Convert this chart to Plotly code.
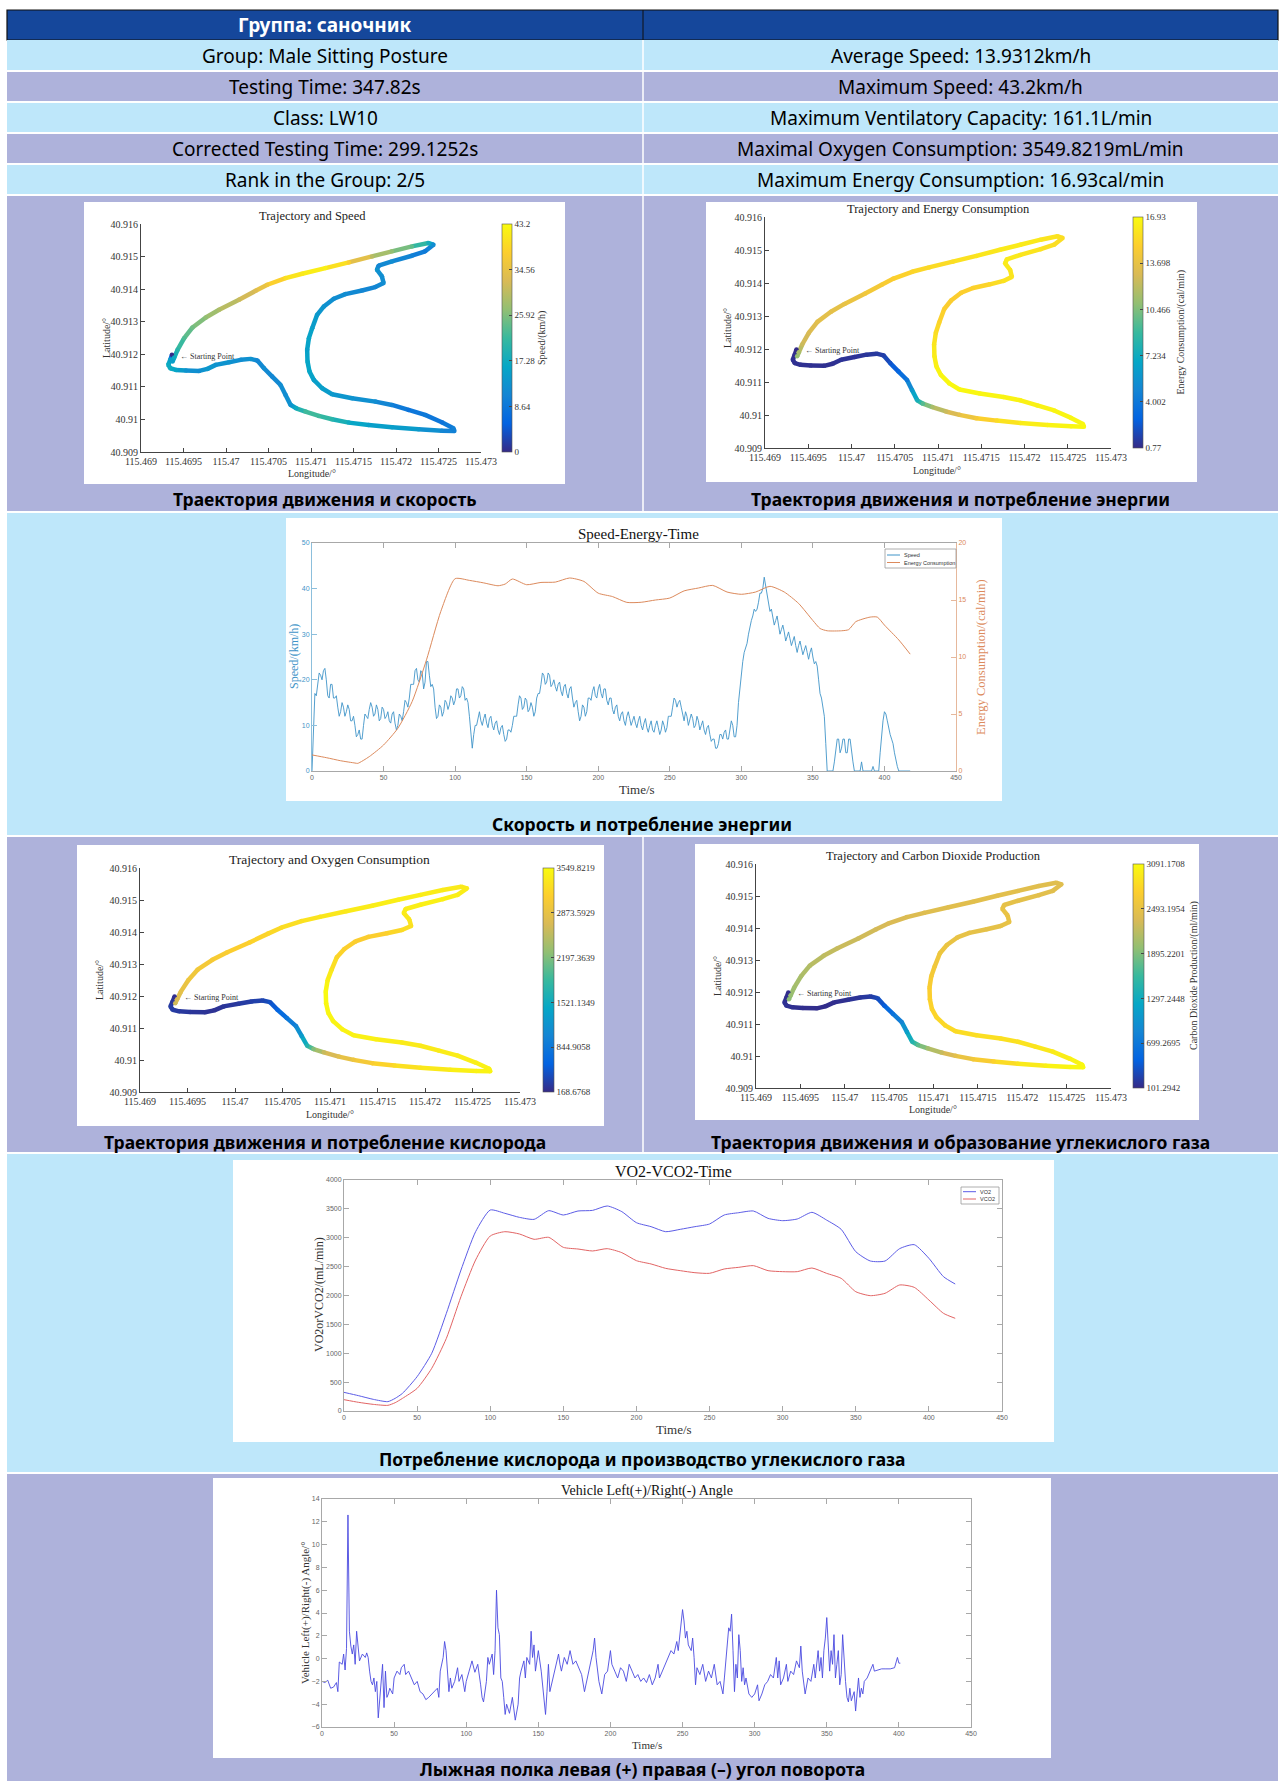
import plotly.graph_objects as go
from plotly.colors import sample_colorscale

W, H = 1284, 1781

# ----------------------------- data -----------------------------
header_title = "Группа: саночник"
info_left = ["Group: Male Sitting Posture", "Testing Time: 347.82s", "Class: LW10",
             "Corrected Testing Time: 299.1252s", "Rank in the Group: 2/5"]
info_right = ["Average Speed: 13.9312km/h", "Maximum Speed: 43.2km/h",
              "Maximum Ventilatory Capacity: 161.1L/min",
              "Maximal Oxygen Consumption: 3549.8219mL/min",
              "Maximum Energy Consumption: 16.93cal/min"]
captions = ["Траектория движения и скорость",
            "Траектория движения и потребление энергии",
            "Скорость и потребление энергии",
            "Траектория движения и потребление кислорода",
            "Траектория движения и образование углекислого газа",
            "Потребление кислорода и производство углекислого газа",
            "Лыжная полка левая (+) правая (–) угол поворота"]

# trajectory waypoints (start -> lower branch -> far tip -> inner branch -> upper tip -> upper branch)
traj_lon = [115.469364, 115.469344, 115.469321, 115.469344, 115.469411, 115.469528, 115.469684, 115.469782, 115.469880, 115.470036,
            115.470173, 115.470290, 115.470369, 115.470447, 115.470544, 115.470642, 115.470701, 115.470760, 115.470826, 115.470935,
            115.471092, 115.471248, 115.471444, 115.471678, 115.471952, 115.472265, 115.472539, 115.472687, 115.472675, 115.472539,
            115.472343, 115.472148, 115.471952, 115.471757, 115.471483, 115.471248, 115.471131, 115.471033, 115.470982, 115.470959,
            115.470955, 115.470975, 115.471014, 115.471072, 115.471151, 115.471268, 115.471405, 115.471600, 115.471757, 115.471854,
            115.471835, 115.471776, 115.471796, 115.471952, 115.472187, 115.472343, 115.472441, 115.472382, 115.472187, 115.471952,
            115.471717, 115.471444, 115.471170, 115.470896, 115.470701, 115.470486, 115.470349, 115.470153, 115.469919, 115.469762,
            115.469606, 115.469508, 115.469430, 115.469391, 115.469371]
traj_lat = [40.911982, 40.911829, 40.911675, 40.911572, 40.911521, 40.911501, 40.911490, 40.911552, 40.911675, 40.911757,
            40.911829, 40.911859, 40.911808, 40.911572, 40.911316, 40.911060, 40.910752, 40.910445, 40.910342, 40.910240,
            40.910107, 40.910004, 40.909902, 40.909830, 40.909758, 40.909697, 40.909656, 40.909646, 40.909728, 40.909912,
            40.910138, 40.910291, 40.910445, 40.910547, 40.910650, 40.910773, 40.910957, 40.911214, 40.911470, 40.911777,
            40.912136, 40.912495, 40.912802, 40.913212, 40.913469, 40.913704, 40.913848, 40.913960, 40.914063, 40.914186,
            40.914391, 40.914596, 40.914719, 40.914852, 40.915026, 40.915160, 40.915365, 40.915416, 40.915313, 40.915160,
            40.915006, 40.914821, 40.914647, 40.914473, 40.914340, 40.914135, 40.913950, 40.913673, 40.913366, 40.913130,
            40.912823, 40.912495, 40.912136, 40.911900, 40.911777]
traj_speed = [0, 15, 17, 17, 16, 13, 12, 14, 13, 13,
              12, 13, 11, 12, 11, 12, 12, 13, 17, 22,
              22, 20, 17, 15, 15, 14, 11, 10, 10, 8,
              9, 8, 10, 12, 13, 14, 15, 15, 16, 16,
              15, 16, 15, 14, 13, 12, 12, 11, 11, 12,
              12, 13, 11, 12, 10, 9, 12, 18, 24, 27,
              30, 38, 42, 41, 40, 36, 33, 31, 29, 27,
              25, 23, 20, 17, 15]
traj_energy = [0.8, 0.9, 1.0, 1.0, 1.0, 1.0, 1.0, 1.0, 1.1, 1.1,
               1.2, 1.3, 1.5, 2.2, 3.0, 4.0, 6.0, 7.5, 9.5, 11.5,
               12.5, 13.5, 14.5, 15.5, 16.2, 16.5, 16.7, 16.8, 16.8, 16.7,
               16.6, 16.5, 16.5, 16.6, 16.7, 16.8, 16.8, 16.7, 16.5, 16.3,
               16.0, 15.6, 15.2, 14.9, 14.8, 14.9, 15.0, 15.3, 15.8, 15.9,
               16.0, 16.2, 16.2, 16.0, 15.8, 15.6, 15.6, 15.8, 16.0, 16.2,
               16.1, 15.9, 15.6, 15.4, 15.2, 14.9, 14.6, 14.2, 13.7, 13.5,
               13.4, 13.0, 12.5, 11.5, 11.0]
traj_vo2 = [200, 250, 300, 300, 280, 260, 240, 230, 250, 280,
            320, 360, 450, 600, 800, 1000, 1300, 1700, 2200, 2600,
            2800, 2950, 3100, 3250, 3350, 3420, 3470, 3480, 3470, 3440,
            3420, 3400, 3380, 3400, 3450, 3460, 3470, 3480, 3500, 3520,
            3540, 3450, 3350, 3200, 3150, 3120, 3110, 3150, 3250, 3300,
            3350, 3400, 3420, 3440, 3450, 3430, 3400, 3380, 3400, 3420,
            3440, 3420, 3380, 3350, 3300, 3250, 3200, 3150, 3100, 3050,
            3000, 2950, 2850, 2750, 2650]
traj_vco2 = [120, 130, 150, 150, 140, 130, 120, 120, 130, 150,
             180, 220, 300, 450, 650, 850, 1150, 1450, 1750, 2050,
             2250, 2450, 2600, 2750, 2900, 3000, 3050, 3080, 3070, 3000,
             2950, 2900, 2880, 2860, 2850, 2820, 2800, 2780, 2760, 2740,
             2700, 2650, 2600, 2560, 2530, 2500, 2480, 2470, 2480, 2500,
             2520, 2500, 2480, 2460, 2440, 2430, 2420, 2420, 2420, 2430,
             2440, 2430, 2420, 2400, 2380, 2350, 2320, 2280, 2250, 2200,
             2150, 2100, 2050, 2000, 1950]

lon_ticks = [115.469, 115.4695, 115.47, 115.4705, 115.471, 115.4715, 115.472, 115.4725, 115.473]
lon_tick_text = ["115.469", "115.4695", "115.47", "115.4705", "115.471", "115.4715", "115.472", "115.4725", "115.473"]
lat_ticks = [40.909, 40.910, 40.911, 40.912, 40.913, 40.914, 40.915, 40.916]
lat_tick_text = ["40.909", "40.91", "40.911", "40.912", "40.913", "40.914", "40.915", "40.916"]

speed_cb_ticks = [0, 8.64, 17.28, 25.92, 34.56, 43.2]
speed_cb_text = ["0", "8.64", "17.28", "25.92", "34.56", "43.2"]
energy_cb_ticks = [0.77, 4.002, 7.234, 10.466, 13.698, 16.93]
energy_cb_text = ["0.77", "4.002", "7.234", "10.466", "13.698", "16.93"]
vo2_cb_ticks = [168.6768, 844.9058, 1521.1349, 2197.3639, 2873.5929, 3549.8219]
vo2_cb_text = ["168.6768", "844.9058", "1521.1349", "2197.3639", "2873.5929", "3549.8219"]
vco2_cb_ticks = [101.2942, 699.2695, 1297.2448, 1895.2201, 2493.1954, 3091.1708]
vco2_cb_text = ["101.2942", "699.2695", "1297.2448", "1895.2201", "2493.1954", "3091.1708"]

# speed (km/h) read at even seconds 0..418 and at odd seconds 1..417
speed_even = [0, 17, 19, 21, 22, 20, 16, 19, 16, 14,
              13, 14, 13, 13.5, 11, 10, 8, 7, 10, 12,
              13.5, 14, 12.5, 13.5, 11.5, 13.5, 12, 11, 12.5, 10.5,
              10, 12, 13, 15, 16, 19, 22, 20, 22, 18,
              24, 21, 19, 14, 12, 14, 13, 15, 14.5, 16,
              15.5, 18, 16.5, 18, 16, 12, 5, 10, 12, 11,
              11.5, 10.5, 11.5, 10, 10.5, 9, 9.5, 8, 7, 9,
              10, 12, 14.5, 16, 14, 15.5, 13.5, 14, 13, 17,
              19, 21, 19.5, 21, 19, 18.5, 19, 17.5, 18.5, 17,
              18, 16, 15, 13, 12, 14, 13, 16, 17.5, 16.5,
              18, 17, 18, 15.5, 16, 13.5, 14, 12, 12.5, 11,
              12, 11.5, 11, 10.5, 11, 10, 10.5, 9.5, 10, 9,
              10, 9.5, 9, 10, 9.5, 12, 14, 15.5, 15, 14,
              11, 12, 11, 11.5, 10, 11, 10, 9, 9.5, 8,
              7, 5, 6, 8, 8.5, 7, 9, 10, 7.5, 15,
              22, 26, 28, 32, 34, 35, 37, 39, 42.5, 39,
              35, 34, 33, 32, 31, 30.5, 29.5, 29, 28.5, 27.5,
              27.5, 27, 26.5, 26, 26, 25, 24, 20, 16, 12,
              0, 0, 0, 4, 7, 5, 7, 4, 7, 2,
              0, 0, 2, 0, 0, 0, 1, 0, 0, 8,
              13, 11, 8, 6, 2, 0, 0, 0, 0, 0]
speed_odd = [9, 16.5, 21.5, 20, 22.5, 16.5, 19, 16, 16.5, 12,
             15, 12, 14.5, 11, 12, 7.5, 9, 7, 12.5, 11.5,
             15, 12, 14.5, 11, 14, 11.5, 13, 10.5, 13, 9,
             12.5, 11, 15.5, 14, 19, 19, 22.5, 19.5, 21.5, 19.5,
             24, 18.5, 18, 11.5, 14.5, 12, 15.5, 13.5, 16.5, 14.5,
             18, 16, 18.5, 15.5, 15, 8, 8, 10, 13, 10,
             12.5, 9.5, 12, 9, 11, 8, 10, 6.5, 9, 8.5,
             12, 12, 16.5, 13.5, 16, 13, 15, 12, 16, 17,
             21.5, 19, 21.5, 18.5, 20, 17.5, 19.5, 16.5, 19, 16,
             18.5, 14, 15.5, 11, 14.5, 12, 16, 15.5, 18.5, 16,
             19, 16, 18, 14.5, 16, 12.5, 14.5, 11, 13, 10,
             13, 10, 12, 9.5, 12, 9, 11.5, 8.5, 11, 8.5,
             11, 8, 11, 8.5, 12, 12, 16, 14, 15.5, 12,
             13, 10, 12.5, 9.5, 12, 9, 11, 8, 10, 6.5,
             7, 5, 8, 7, 9, 7, 11, 7.5, 10, 18.5,
             24, 27, 30, 33, 35.5, 35.5, 39, 40, 40.5, 36.5,
             35.5, 32, 34, 30, 32, 28.5, 30.5, 27.5, 29.5, 26,
             28.5, 25.5, 27.5, 24.5, 27, 23.5, 23, 17, 14, 6,
             0, 0, 2, 7, 4, 7, 4, 7, 4, 0,
             0, 0, 0, 0, 0, 0, 0, 0, 4, 11,
             12.5, 9, 7, 4, 1, 0, 0, 0, 0]

energy_t = [0, 10, 20, 30, 32, 40, 50, 60, 70, 80,
            90, 100, 110, 120, 130, 135, 140, 150, 160, 170,
            180, 190, 200, 210, 220, 230, 240, 250, 260, 270,
            280, 290, 300, 310, 320, 330, 340, 350, 355, 360,
            370, 375, 380, 390, 395, 400, 410, 418]
energy_val = [1.41, 1.17, 0.9, 0.7, 0.67, 1.26, 2.28, 3.75, 6.1, 9.75,
              14.0, 16.87, 16.72, 16.5, 16.25, 16.4, 16.84, 16.34, 16.54, 16.57,
              16.93, 16.63, 15.6, 15.3, 14.79, 14.8, 15.0, 15.17, 15.8, 16.05,
              16.28, 15.7, 15.5, 15.7, 16.2, 15.7, 14.7, 13.2, 12.5, 12.3,
              12.3, 12.4, 13.1, 13.5, 13.5, 12.8, 11.5, 10.25]

gas_t = [0, 10, 20, 30, 35, 40, 50, 60, 70, 80,
         90, 100, 110, 120, 130, 140, 150, 160, 170, 180,
         190, 200, 210, 220, 230, 240, 250, 260, 270, 280,
         290, 300, 310, 320, 330, 340, 350, 360, 370, 380,
         390, 400, 410, 418]
vo2 = [323, 265, 202, 162, 219, 306, 595, 999, 1691, 2441,
       3105, 3480, 3423, 3353, 3319, 3469, 3394, 3463, 3474, 3550,
       3452, 3261, 3192, 3105, 3146, 3192, 3238, 3394, 3434, 3463,
       3336, 3296, 3325, 3440, 3307, 3146, 2759, 2597, 2597, 2811,
       2880, 2644, 2326, 2199]
vco2 = [196, 150, 115, 98, 144, 219, 392, 739, 1258, 1980,
        2615, 3030, 3105, 3065, 2973, 3007, 2834, 2805, 2771, 2811,
        2742, 2603, 2546, 2470, 2430, 2395, 2384, 2459, 2488, 2517,
        2430, 2413, 2413, 2476, 2384, 2297, 2066, 1997, 2038, 2182,
        2141, 1922, 1691, 1605]

angle_t = [0, 2, 4, 6, 8, 10, 11, 12, 14, 15,
           16, 17, 18, 19, 20, 21, 22, 23, 24, 25,
           26, 28, 30, 31, 32, 33, 34, 35, 36, 37,
           38, 39, 40, 41, 42, 43, 44, 45, 46, 47,
           49, 50, 52, 54, 55, 57, 58, 60, 62, 64,
           66, 68, 70, 72, 74, 76, 78, 80, 81, 82,
           84, 85, 86, 87, 88, 89, 90, 92, 94, 95,
           97, 99, 100, 102, 104, 106, 108, 110, 111, 112,
           114, 115, 116, 118, 119, 120, 121, 122, 123, 124,
           125, 126, 127, 128, 130, 132, 134, 136, 137, 138,
           140, 141, 142, 144, 145, 146, 147, 148, 150, 152,
           154, 155, 156, 157, 158, 160, 162, 164, 165, 166,
           168, 170, 172, 174, 176, 178, 180, 182, 184, 186,
           188, 189, 190, 192, 194, 196, 198, 200, 201, 203,
           205, 207, 209, 211, 213, 215, 217, 219, 221, 223,
           225, 227, 229, 231, 233, 234, 236, 238, 240, 242,
           244, 246, 247, 248, 249, 250, 251, 252, 253, 254,
           256, 257, 258, 259, 260, 262, 264, 266, 268, 270,
           272, 274, 276, 278, 279, 280, 281, 282, 283, 284,
           285, 286, 287, 288, 289, 290, 291, 292, 293, 294,
           296, 298, 300, 302, 303, 305, 307, 309, 311, 313,
           315, 316, 317, 318, 320, 322, 323, 325, 327, 329,
           331, 332, 333, 335, 337, 339, 341, 342, 344, 345,
           346, 347, 348, 349, 350, 351, 352, 353, 354, 355,
           356, 357, 358, 359, 360, 361, 362, 363, 364, 365,
           366, 367, 369, 370, 371, 372, 373, 374, 375, 376,
           378, 380, 382, 383, 385, 388, 391, 394, 397, 398,
           399, 400, 401]
angle_deg = [-2.0, -2.1, -1.9, -2.6, -2.5, -2.1, -2.9, -0.3, -0.5, 0.4,
             -1.0, 0.9, 12.6, 2.4, 1.1, 0.4, 1.2, -0.5, 2.4, 0.8,
             -0.2, 0.4, 0.1, 0.5, 0.1, -1.1, -2.0, -2.3, -1.7, -2.9,
             -2.0, -5.2, -3.4, -1.7, -0.5, -4.3, -1.1, -3.4, -3.1, -2.6,
             -3.1, -1.7, -1.1, -1.4, -0.8, -0.5, -1.4, -1.1, -1.7, -2.3,
             -2.0, -2.9, -3.1, -3.6, -3.4, -3.1, -2.9, -2.6, -3.4, -1.1,
             0.1, 1.5, 0.7, -1.1, -2.9, -1.7, -2.6, -2.0, -0.8, -2.0,
             -1.4, -2.9, -2.0, -1.1, -0.2, -1.2, -0.5, -2.3, -3.4, -3.8,
             -2.0, 0.1, -0.5, 0.4, -1.4, 0.7, 6.0, 2.7, 2.1, -1.7,
             -2.0, -3.4, -4.9, -4.0, -4.8, -3.4, -5.4, -4.0, -1.7, -1.1,
             -0.2, -1.7, 0.1, -0.5, 2.4, 0.1, 1.2, -1.1, 0.7, -1.1,
             -3.4, -4.9, -2.9, -0.5, -2.9, -1.7, -0.5, 0.4, -0.5, -1.1,
             0.1, -0.5, 0.7, -0.5, -0.2, -0.8, -1.4, -2.9, -1.7, -0.5,
             0.7, 1.8, 0.1, -2.0, -3.1, -1.4, -1.1, 0.7, -0.5, -1.1,
             -1.7, -0.8, -1.1, -2.0, -0.5, -1.1, -1.7, -1.4, -2.0, -1.7,
             -2.1, -1.4, -2.3, -1.7, -0.5, -1.7, -1.1, -0.5, 0.1, 0.7,
             0.4, 1.5, 0.7, 2.1, 3.0, 4.3, 3.3, 1.8, 2.4, 1.2,
             0.7, 1.8, 0.1, -2.3, -0.8, -1.4, -0.5, -2.0, -1.1, -1.7,
             -0.5, -2.3, -2.0, -3.1, -1.7, -0.2, 0.9, 2.7, 2.4, 3.9,
             0.7, -2.9, -0.5, -1.7, 2.1, 0.7, -2.0, -0.8, -2.3, -1.7,
             -3.1, -3.4, -3.1, -2.3, -3.7, -3.1, -2.3, -2.0, -1.4, -1.7,
             0.1, -1.7, -0.2, -2.3, -1.7, -0.5, -2.0, -1.1, -1.4, -0.2,
             -0.8, 1.1, -1.1, -3.1, -1.7, -2.0, -0.5, -1.7, 0.7, -1.1,
             0.1, -1.7, 0.7, 1.8, 3.6, 0.7, -1.1, 0.7, -0.5, 2.1,
             -1.7, -0.5, 0.7, -2.3, -1.4, 2.1, -0.5, -2.0, -3.4, -3.8,
             -2.6, -3.7, -2.9, -4.6, -3.1, -1.7, -3.4, -2.6, -3.1, -2.0,
             -1.7, -1.1, -0.5, -1.1, -1.0, -0.9, -0.9, -0.9, -0.8, -0.4,
             0.1, -0.4, -0.4]

time_ticks = [0, 50, 100, 150, 200, 250, 300, 350, 400, 450]
speed_legend = ["Speed", "Energy Consumption"]
gas_legend = ["VO2", "VCO2"]

# interleave the even/odd speed readings into one 1-second series
speed_t, speed_kmh = [], []
for k, v in enumerate(speed_even):
    speed_t.append(2 * k)
    speed_kmh.append(v)
    if k < len(speed_odd):
        speed_t.append(2 * k + 1)
        speed_kmh.append(speed_odd[k])

# ----------------------------- style -----------------------------
SERIF = "Liberation Serif"
SANS = "Noto Sans"
TSANS = "Liberation Sans"
DARK = "#15479b"
CYAN = "#bee7fa"
LAV = "#aeb2db"
PARULA = [[0.0, "rgb(53,42,135)"], [0.125, "rgb(3,99,225)"], [0.25, "rgb(20,133,212)"],
          [0.375, "rgb(6,167,198)"], [0.5, "rgb(56,185,158)"], [0.625, "rgb(146,191,115)"],
          [0.75, "rgb(217,186,86)"], [0.875, "rgb(252,206,46)"], [1.0, "rgb(249,251,14)"]]


def px(x):
    return x / W


def py(y):
    return 1 - y / H


def xdom(a, b):
    return [a / W, b / W]


def ydom(a, b):
    return [1 - b / H, 1 - a / H]


shapes = []
annotations = []


def rect(x0, y0, x1, y1, fill, lc=None, lw=0, layer="below"):
    shapes.append(dict(type="rect", xref="paper", yref="paper", layer=layer,
                       x0=px(x0), x1=px(x1), y0=py(y1), y1=py(y0),
                       fillcolor=fill, line=dict(width=lw, color=lc or fill)))


def hline(x0, x1, y, color, w, layer="below"):
    shapes.append(dict(type="line", xref="paper", yref="paper", layer=layer,
                       x0=px(x0), x1=px(x1), y0=py(y), y1=py(y), line=dict(color=color, width=w)))


def vline(x, y0, y1, color, w):
    shapes.append(dict(type="line", xref="paper", yref="paper", layer="below",
                       x0=px(x), x1=px(x), y0=py(y0), y1=py(y1), line=dict(color=color, width=w)))


def text(x, y, s, size, color="black", family=SANS, bold=False, angle=0, xanchor="center"):
    annotations.append(dict(xref="paper", yref="paper", x=px(x), y=py(y), text=(f"<b>{s}</b>" if bold else s),
                            showarrow=False, xanchor=xanchor, yanchor="middle", textangle=angle,
                            font=dict(family=family, size=size, color=color)))


L, M, R = 7, 643, 1278

# table header + info rows
rect(L, 10, R, 40, DARK, "#111111", 1.2)
vline(M, 10, 40, "#111111", 1)
row_tops = [40, 71, 102, 133, 164]
for i, y0 in enumerate(row_tops):
    rect(L, y0, R, y0 + 31, CYAN if i % 2 == 0 else LAV)
rect(L, 195, R, 512, LAV)
rect(L, 512, R, 836, CYAN)
rect(L, 836, R, 1153, LAV)
rect(L, 1153, R, 1473, CYAN)
rect(L, 1473, R, 1781, LAV)
for y in [71, 102, 133, 164, 195, 512, 836, 1153, 1473]:
    hline(L, R, y, "white", 2)
vline(M, 40, 512, "white", 1.5)
vline(M, 836, 1153, "white", 1.5)

# white image panels
for (x0, y0, x1, y1) in [(84, 202, 565, 484), (706, 202, 1197, 482), (286, 518, 1002, 801),
                         (77, 845, 604, 1126), (695, 844, 1199, 1120), (233, 1160, 1054, 1442),
                         (213, 1478, 1051, 1758)]:
    rect(x0, y0, x1, y1, "white")

text((L + M) / 2, 25, header_title, 19, "white", bold=True)
for i, y0 in enumerate(row_tops):
    text((L + M) / 2, y0 + 16, info_left[i], 19)
    text((M + R) / 2, y0 + 16, info_right[i], 19)

cap_pos = [(325, 499), (960, 499), (642, 824), (325, 1142), (960, 1142), (642, 1459), (642, 1769)]
for (cx, cy), s in zip(cap_pos, captions):
    text(cx, cy, s, 17.5, bold=True)

fig = go.Figure()
layout_axes = {}

# ----------------------------- trajectory panels -----------------------------
panels = [
    dict(n=1, xd=(141, 481), yd=(224, 452), vals=traj_speed, cmin=0, cmax=43.2, ct=speed_cb_ticks,
         ctt=speed_cb_text, cbx=502, cbw=10, title="Trajectory and Speed", tpos=(312, 216), tsize=12.5,
         cbt="Speed/(km/h)", cbtx=542, lonpos=(312, 473), latpos=(106, 338), sp_lat=40.91193),
    dict(n=2, xd=(765, 1111), yd=(217, 448), vals=traj_energy, cmin=0.77, cmax=16.93, ct=energy_cb_ticks,
         ctt=energy_cb_text, cbx=1133, cbw=10, title="Trajectory and Energy Consumption", tpos=(938, 209),
         tsize=12.5, cbt="Energy Consumption/(cal/min)", cbtx=1180, lonpos=(937, 470), latpos=(727, 328),
         sp_lat=40.91195),
    dict(n=4, xd=(140, 520), yd=(868, 1092), vals=traj_vo2, cmin=168.6768, cmax=3549.8219, ct=vo2_cb_ticks,
         ctt=vo2_cb_text, cbx=543, cbw=11, title="Trajectory and Oxygen Consumption", tpos=(330, 859),
         tsize=13.5, cbt=None, cbtx=None, lonpos=(330, 1114), latpos=(99, 980), sp_lat=40.91195),
    dict(n=5, xd=(756, 1111), yd=(864, 1088), vals=traj_vco2, cmin=101.2942, cmax=3091.1708, ct=vco2_cb_ticks,
         ctt=vco2_cb_text, cbx=1133, cbw=11, title="Trajectory and Carbon Dioxide Production", tpos=(933, 856),
         tsize=12.5, cbt="Carbon Dioxide Production/(ml/min)", cbtx=1194, lonpos=(933, 1109), latpos=(717, 976),
         sp_lat=40.91195),
]

for p in panels:
    n = p["n"]
    xa, ya = f"x{n}", f"y{n}"
    vals = p["vals"]
    span = p["cmax"] - p["cmin"]
    for i in range(len(traj_lon) - 1):
        v = (vals[i] + vals[i + 1]) / 2
        frac = min(max((v - p["cmin"]) / span, 0), 1)
        col = sample_colorscale(PARULA, [frac])[0]
        fig.add_trace(go.Scatter(x=[traj_lon[i], traj_lon[i + 1]], y=[traj_lat[i], traj_lat[i + 1]],
                                 mode="lines", line=dict(color=col, width=4.5), xaxis=xa, yaxis=ya,
                                 showlegend=False, hoverinfo="skip"))
    fig.add_trace(go.Scatter(
        x=traj_lon, y=traj_lat, mode="markers", xaxis=xa, yaxis=ya, showlegend=False,
        marker=dict(size=4.5, color=vals, colorscale=PARULA, cmin=p["cmin"], cmax=p["cmax"], showscale=True,
                    colorbar=dict(x=px(p["cbx"]), xanchor="left", xpad=0, ypad=0,
                                  y=py(p["yd"][0]), yanchor="top", lenmode="pixels",
                                  len=p["yd"][1] - p["yd"][0], thickness=p["cbw"],
                                  outlinewidth=0.6, outlinecolor="#555",
                                  tickvals=p["ct"], ticktext=p["ctt"], ticks="inside", ticklen=3,
                                  tickcolor="#444", tickfont=dict(family=SERIF, size=9, color="#333")))))
    axis_common = dict(showgrid=False, zeroline=False, showline=True, linecolor="#444", linewidth=1,
                       ticks="inside", ticklen=4, tickcolor="#444", tickangle=0, automargin=False,
                       tickfont=dict(family=SERIF, size=10, color="#333"))
    layout_axes[f"xaxis{n}"] = dict(domain=xdom(*p["xd"]), range=[115.469, 115.473], tickvals=lon_ticks,
                                    ticktext=lon_tick_text, anchor=ya, **axis_common)
    layout_axes[f"yaxis{n}"] = dict(domain=ydom(*p["yd"]), range=[40.909, 40.916], tickvals=lat_ticks,
                                    ticktext=lat_tick_text, anchor=xa, **axis_common)
    text(p["tpos"][0], p["tpos"][1], p["title"], p["tsize"], "#222", family=SERIF)
    text(p["lonpos"][0], p["lonpos"][1], "Longitude/°", 10, "#333", family=SERIF)
    text(p["latpos"][0], p["latpos"][1], "Latitude/°", 10, "#333", family=SERIF, angle=-90)
    if p["cbt"]:
        text(p["cbtx"], (p["yd"][0] + p["yd"][1]) / 2, p["cbt"], 10, "#333", family=SERIF, angle=-90)
    annotations.append(dict(xref=xa, yref=ya, x=115.46944, y=p["sp_lat"], text="← Starting Point",
                            showarrow=False, xanchor="left", yanchor="middle",
                            font=dict(family=SERIF, size=8, color="#333")))

# ----------------------------- time-series axes -----------------------------
GREY = "#a8a8a8"
ts_x = dict(range=[0, 450], tickvals=time_ticks, showgrid=False, zeroline=False, showline=True, linecolor=GREY,
            linewidth=1, mirror="ticks", ticks="inside", ticklen=5, tickcolor=GREY, automargin=False,
            tickfont=dict(family=TSANS, size=7, color="#666"))

# Speed-Energy-Time (x3, y3 left, y8 right)
SPEED_C = "#3f94c8"
ENERGY_C = "#dc8a5c"
fig.add_trace(go.Scatter(x=speed_t, y=speed_kmh, mode="lines", name=speed_legend[0],
                         line=dict(color=SPEED_C, width=0.9), xaxis="x3", yaxis="y3", showlegend=False))
fig.add_trace(go.Scatter(x=energy_t, y=energy_val, mode="lines", name=speed_legend[1],
                         line=dict(color=ENERGY_C, width=1, shape="spline", smoothing=0.6),
                         xaxis="x3", yaxis="y8", showlegend=False))
layout_axes["xaxis3"] = dict(domain=xdom(312, 956), anchor="y3", **ts_x)
layout_axes["yaxis3"] = dict(domain=ydom(543, 771), anchor="x3", range=[0, 50], dtick=10, showgrid=False,
                             zeroline=False, showline=True, linecolor="#8cbfdc", ticks="inside", ticklen=5,
                             tickcolor="#8cbfdc", automargin=False,
                             tickfont=dict(family=TSANS, size=7, color=SPEED_C))
layout_axes["yaxis8"] = dict(domain=ydom(543, 771), anchor="x3", overlaying="y3", side="right", range=[0, 20],
                             dtick=5, showgrid=False, zeroline=False, showline=True, linecolor="#e6b89c",
                             ticks="inside", ticklen=5, tickcolor="#e6b89c", automargin=False,
                             tickfont=dict(family=TSANS, size=7, color=ENERGY_C))
text(638, 534, "Speed-Energy-Time", 15, "#111", family=SERIF)
text(637, 789, "Time/s", 13, "#333", family=SERIF)
text(294, 657, "Speed/(km/h)", 12, SPEED_C, family=SERIF, angle=-90)
text(981, 657, "Energy Consumption/(cal/min)", 12.5, ENERGY_C, family=SERIF, angle=-90)

# VO2-VCO2-Time (x6, y6)
VO2_C = "#5c5ce6"
VCO2_C = "#e26464"
fig.add_trace(go.Scatter(x=gas_t, y=vo2, mode="lines", name=gas_legend[0],
                         line=dict(color=VO2_C, width=1, shape="spline", smoothing=0.6),
                         xaxis="x6", yaxis="y6", showlegend=False))
fig.add_trace(go.Scatter(x=gas_t, y=vco2, mode="lines", name=gas_legend[1],
                         line=dict(color=VCO2_C, width=1, shape="spline", smoothing=0.6),
                         xaxis="x6", yaxis="y6", showlegend=False))
layout_axes["xaxis6"] = dict(domain=xdom(344, 1002), anchor="y6", **ts_x)
layout_axes["yaxis6"] = dict(domain=ydom(1180, 1411), anchor="x6", range=[0, 4000], dtick=500, showgrid=False,
                             zeroline=False, showline=True, linecolor=GREY, mirror="ticks", ticks="inside",
                             ticklen=5, tickcolor=GREY, automargin=False,
                             tickfont=dict(family=TSANS, size=7, color="#666"))
text(673, 1171, "VO2-VCO2-Time", 16, "#111", family=SERIF)
text(674, 1429, "Time/s", 13, "#333", family=SERIF)
text(319, 1295, "VO2orVCO2/(mL/min)", 12, "#333", family=SERIF, angle=-90)

# Vehicle angle (x7, y7)
fig.add_trace(go.Scatter(x=angle_t, y=angle_deg, mode="lines", name="Angle", showlegend=False,
                         line=dict(color="#4a4ae0", width=0.9), xaxis="x7", yaxis="y7"))
layout_axes["xaxis7"] = dict(domain=xdom(322, 971), anchor="y7", **ts_x)
layout_axes["yaxis7"] = dict(domain=ydom(1499, 1727), anchor="x7", range=[-6, 14], dtick=2, showgrid=False,
                             zeroline=False, showline=True, linecolor=GREY, mirror="ticks", ticks="inside",
                             ticklen=5, tickcolor=GREY, automargin=False,
                             tickfont=dict(family=TSANS, size=7, color="#666"))
text(647, 1491, "Vehicle Left(+)/Right(-) Angle", 14, "#111", family=SERIF)
text(647, 1745, "Time/s", 11, "#333", family=SERIF)
text(305, 1613, "Vehicle Left(+)/Right(-) Angle/°", 11, "#333", family=SERIF, angle=-90)


# compact MATLAB-style legends (box, sample line, label)
def small_legend(x0, y0, x1, y1, rows, names, colors):
    rect(x0, y0, x1, y1, "white", "#9a9a9a", 0.8, layer="above")
    for ry, nm, c in zip(rows, names, colors):
        hline(x0 + 2, x0 + 15, ry, c, 1, layer="above")
        text(x0 + 17, ry, nm, 5.5, "#333", family=TSANS, xanchor="left")


small_legend(885, 549, 956, 568, [555, 562.5], speed_legend, [SPEED_C, ENERGY_C])
small_legend(961, 1187, 999, 1204, [1191.7, 1199], gas_legend, [VO2_C, VCO2_C])

fig.update_layout(
    width=W, height=H, autosize=False, margin=dict(l=0, r=0, t=0, b=0, pad=0, autoexpand=False),
    paper_bgcolor="white", plot_bgcolor="rgba(0,0,0,0)",
    shapes=shapes, annotations=annotations, showlegend=False,
    **layout_axes,
)

fig.write_html("out.html", config={"displayModeBar": False},
               post_script="document.body.style.margin='0';")
